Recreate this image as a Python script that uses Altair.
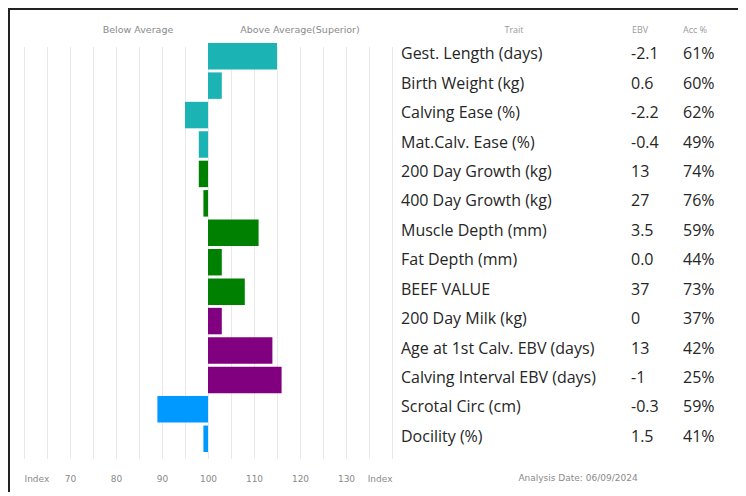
import altair as alt
import pandas as pd

traits = ["Gest. Length (days)", "Birth Weight (kg)", "Calving Ease (%)", "Mat.Calv. Ease (%)",
          "200 Day Growth (kg)", "400 Day Growth (kg)", "Muscle Depth (mm)", "Fat Depth (mm)",
          "BEEF VALUE", "200 Day Milk (kg)", "Age at 1st Calv. EBV (days)",
          "Calving Interval EBV (days)", "Scrotal Circ (cm)", "Docility (%)"]
ebv = ["-2.1", "0.6", "-2.2", "-0.4", "13", "27", "3.5", "0.0", "37", "0", "13", "-1", "-0.3", "1.5"]
acc = ["61%", "60%", "62%", "49%", "74%", "76%", "59%", "44%", "73%", "37%", "42%", "25%", "59%", "41%"]
index_values = [115, 103, 95, 98, 98, 99, 111, 103, 108, 103, 114, 116, 89, 99]
groups = ["Calving"] * 4 + ["Growth"] * 5 + ["Maternal"] * 3 + ["Other"] * 2
group_names = ["Calving", "Growth", "Maternal", "Other"]
group_colors = ["#1bb3b3", "#008000", "#800080", "#0099ff"]
tick_values = list(range(60, 145, 5))

df = pd.DataFrame({"trait": traits, "ebv": ebv, "acc": acc, "index": index_values,
                   "group": groups, "base": [100] * len(traits)})

y_enc = alt.Y("trait:N", sort=traits, axis=None,
              scale=alt.Scale(range=[3.5, 415.5], paddingInner=0.1, paddingOuter=0.05))
x_scale = alt.Scale(domain=[60, 140], range=[16, 384], nice=False, zero=False)

base = alt.Chart(df)

bars = base.mark_bar().encode(
    x=alt.X("index:Q", scale=x_scale,
            axis=alt.Axis(values=tick_values, title=None, domain=False, ticks=False, tickSize=0,
                          labelPadding=12, labelFont="DejaVu Sans", labelFontSize=9,
                          labelColor="#8a8a8a", grid=True, gridColor="#e8e8e8", gridWidth=1,
                          labelExpr="datum.value == 60 || datum.value == 140 ? 'Index' : (datum.value % 10 == 0 ? datum.label : '')")),
    x2="base:Q",
    y=y_enc,
    color=alt.Color("group:N", scale=alt.Scale(domain=group_names, range=group_colors), legend=None),
)

text_style = dict(align="left", baseline="middle", dy=-2, font="Open Sans",
                  fontSize=16, color="#262626")
trait_text = base.mark_text(**text_style).encode(x=alt.value(393), y=y_enc, text="trait:N")
ebv_text = base.mark_text(**text_style).encode(x=alt.value(623), y=y_enc, text="ebv:N")
acc_text = base.mark_text(**text_style).encode(x=alt.value(675), y=y_enc, text="acc:N")

def label(txt, x, y, font="DejaVu Sans", size=9.5, color="#8a8a8a"):
    return alt.Chart(pd.DataFrame({"t": [txt]})).mark_text(
        align="center", baseline="middle", font=font, fontSize=size, color=color
    ).encode(x=alt.value(x), y=alt.value(y), text="t:N")

headers = [
    label("Below Average", 130, -8),
    label("Above Average(Superior)", 292, -8),
    label("Trait", 506, -8, font="Open Sans", size=9, color="#9a9a9a"),
    label("EBV", 632, -8, font="Open Sans", size=9, color="#9a9a9a"),
    label("Acc %", 687, -8, font="Open Sans", size=9, color="#9a9a9a"),
    label("Analysis Date: 06/09/2024", 570, 440, size=9),
]

border_df = pd.DataFrame({"k": [0]})
left_border = alt.Chart(border_df).mark_rule(color="#222222", strokeWidth=2).encode(
    x=alt.value(1), y=alt.value(-30), y2=alt.value(454))
top_border = alt.Chart(border_df).mark_rule(color="#222222", strokeWidth=2).encode(
    y=alt.value(-29), x=alt.value(0), x2=alt.value(730))

chart = alt.layer(bars, trait_text, ebv_text, acc_text, *headers, left_border, top_border).properties(
    width=730, height=424,
    autosize=alt.AutoSizeParams(type="none"),
    padding={"left": 0, "top": 30, "right": 0, "bottom": 30},
).configure_view(stroke=None)

chart.save("out.html", embed_options={"renderer": "svg", "actions": False})
